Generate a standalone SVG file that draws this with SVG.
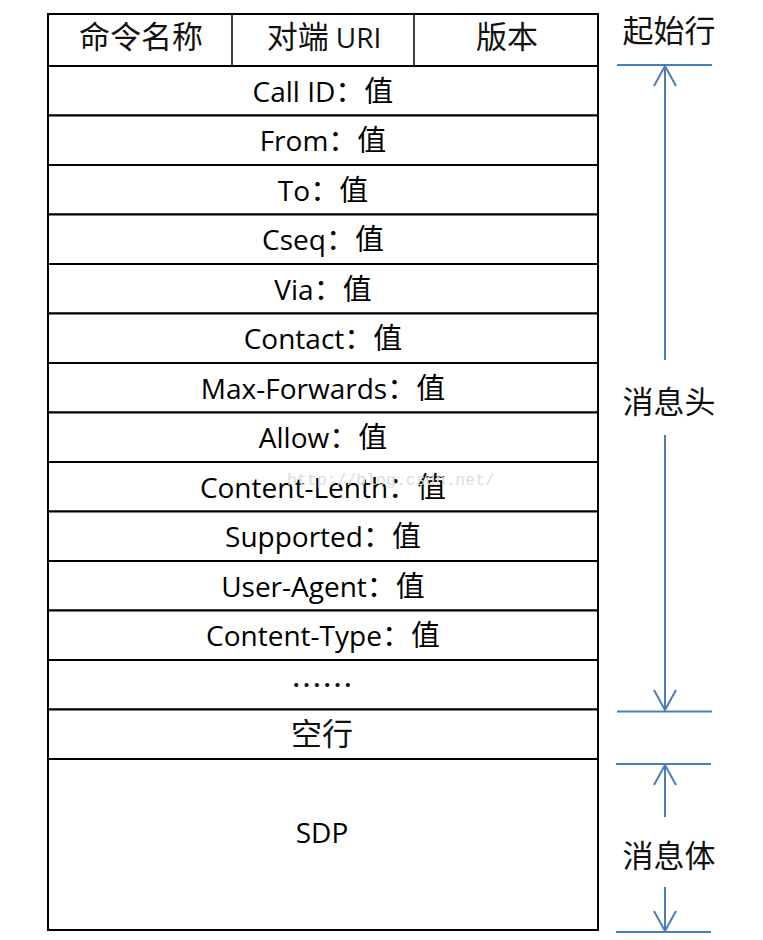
<svg xmlns="http://www.w3.org/2000/svg" width="763" height="940" viewBox="0 0 763 940">
<style>
.bg{fill:#ffffff}
.cell{fill:#ffffff;stroke:#000000;stroke-width:2}
.vdiv{stroke:#000000;stroke-width:1.5}
.t{font-family:"Open Sans","Noto Sans CJK SC",sans-serif;font-size:28px;fill:#000000;text-anchor:middle}
.cj{font-family:"Noto Sans CJK SC",sans-serif;font-size:29px}
.h{font-family:"Noto Sans CJK SC",sans-serif;font-size:31px;fill:#111111;text-anchor:middle}
.blue{stroke:#4a7ebb;stroke-width:2;fill:none}
.wm{font-family:"Liberation Mono",monospace;font-size:16.5px;fill:#dcdcdc}
</style>
<defs>
<marker id="v" markerUnits="userSpaceOnUse" markerWidth="24" markerHeight="26" viewBox="0 0 22 26" refX="21" refY="13" orient="auto">
<path d="M1,2 L21,13 L1,24" fill="none" stroke="#4a7ebb" stroke-width="2"/>
</marker>
</defs>
<rect class="bg" x="0" y="0" width="763" height="940"/>

<g id="header">
<rect class="cell" x="48" y="14" width="550" height="52"/>
<line class="vdiv" x1="232" y1="14" x2="232" y2="66"/>
<line class="vdiv" x1="414" y1="14" x2="414" y2="66"/>
<text class="h" x="141" y="48">命令名称</text>
<text class="h" x="324" y="48">对端 <tspan font-family="Open Sans, sans-serif" font-size="28">URI</tspan></text>
<text class="h" x="507" y="48">版本</text>
</g>

<g id="row-callid"><rect class="cell" x="48" y="66" width="550" height="49.5"/><text class="t" x="323" y="101.5">Call ID<tspan class="cj">：值</tspan></text></g>
<g id="row-from"><rect class="cell" x="48" y="115.5" width="550" height="49.5"/><text class="t" x="323" y="151">From<tspan class="cj">：值</tspan></text></g>
<g id="row-to"><rect class="cell" x="48" y="165" width="550" height="49.5"/><text class="t" x="323" y="200.5">To<tspan class="cj">：值</tspan></text></g>
<g id="row-cseq"><rect class="cell" x="48" y="214.5" width="550" height="49.5"/><text class="t" x="323" y="250">Cseq<tspan class="cj">：值</tspan></text></g>
<g id="row-via"><rect class="cell" x="48" y="264" width="550" height="49.5"/><text class="t" x="323" y="299.5">Via<tspan class="cj">：值</tspan></text></g>
<g id="row-contact"><rect class="cell" x="48" y="313.5" width="550" height="49.5"/><text class="t" x="323" y="349">Contact<tspan class="cj">：值</tspan></text></g>
<g id="row-maxforwards"><rect class="cell" x="48" y="363" width="550" height="49.5"/><text class="t" x="323" y="398.5">Max-Forwards<tspan class="cj">：值</tspan></text></g>
<g id="row-allow"><rect class="cell" x="48" y="412.5" width="550" height="49.5"/><text class="t" x="323" y="448">Allow<tspan class="cj">：值</tspan></text></g>
<g id="row-contentlenth"><rect class="cell" x="48" y="462" width="550" height="49.5"/><text class="t" x="323" y="497.5">Content-Lenth<tspan class="cj">：值</tspan></text></g>
<g id="row-supported"><rect class="cell" x="48" y="511.5" width="550" height="49.5"/><text class="t" x="323" y="547">Supported<tspan class="cj">：值</tspan></text></g>
<g id="row-useragent"><rect class="cell" x="48" y="561" width="550" height="49.5"/><text class="t" x="323" y="596.5">User-Agent<tspan class="cj">：值</tspan></text></g>
<g id="row-contenttype"><rect class="cell" x="48" y="610.5" width="550" height="49.5"/><text class="t" x="323" y="646">Content-Type<tspan class="cj">：值</tspan></text></g>
<g id="row-ellipsis"><rect class="cell" x="48" y="660" width="550" height="49.5"/><text class="h" x="322" y="695.5" font-size="30">……</text></g>
<g id="row-empty"><rect class="cell" x="48" y="709.5" width="550" height="49.5"/><text class="h" x="322" y="745" font-size="30">空行</text></g>
<g id="row-sdp"><rect class="cell" x="48" y="759" width="550" height="171"/><text class="t" x="322" y="843">SDP</text></g>

<g id="watermark"><text class="wm" x="287" y="485">http://blog.csdn.net/</text></g>

<g id="label-start"><text class="h" x="669" y="42">起始行</text></g>
<g id="label-header"><text class="h" x="669" y="413">消息头</text></g>
<g id="label-body"><text class="h" x="669" y="867">消息体</text></g>

<g id="connectors">
<line class="blue" x1="617" y1="65" x2="712" y2="65"/>
<line class="blue" x1="665" y1="360" x2="665" y2="66" marker-end="url(#v)"/>
<line class="blue" x1="665" y1="435" x2="665" y2="710" marker-end="url(#v)"/>
<line class="blue" x1="617" y1="711.5" x2="712" y2="711.5"/>
<line class="blue" x1="616" y1="764" x2="711" y2="764"/>
<line class="blue" x1="665" y1="817" x2="665" y2="765" marker-end="url(#v)"/>
<line class="blue" x1="665" y1="887" x2="665" y2="931" marker-end="url(#v)"/>
<line class="blue" x1="616" y1="932" x2="711" y2="932"/>
</g>
</svg>
